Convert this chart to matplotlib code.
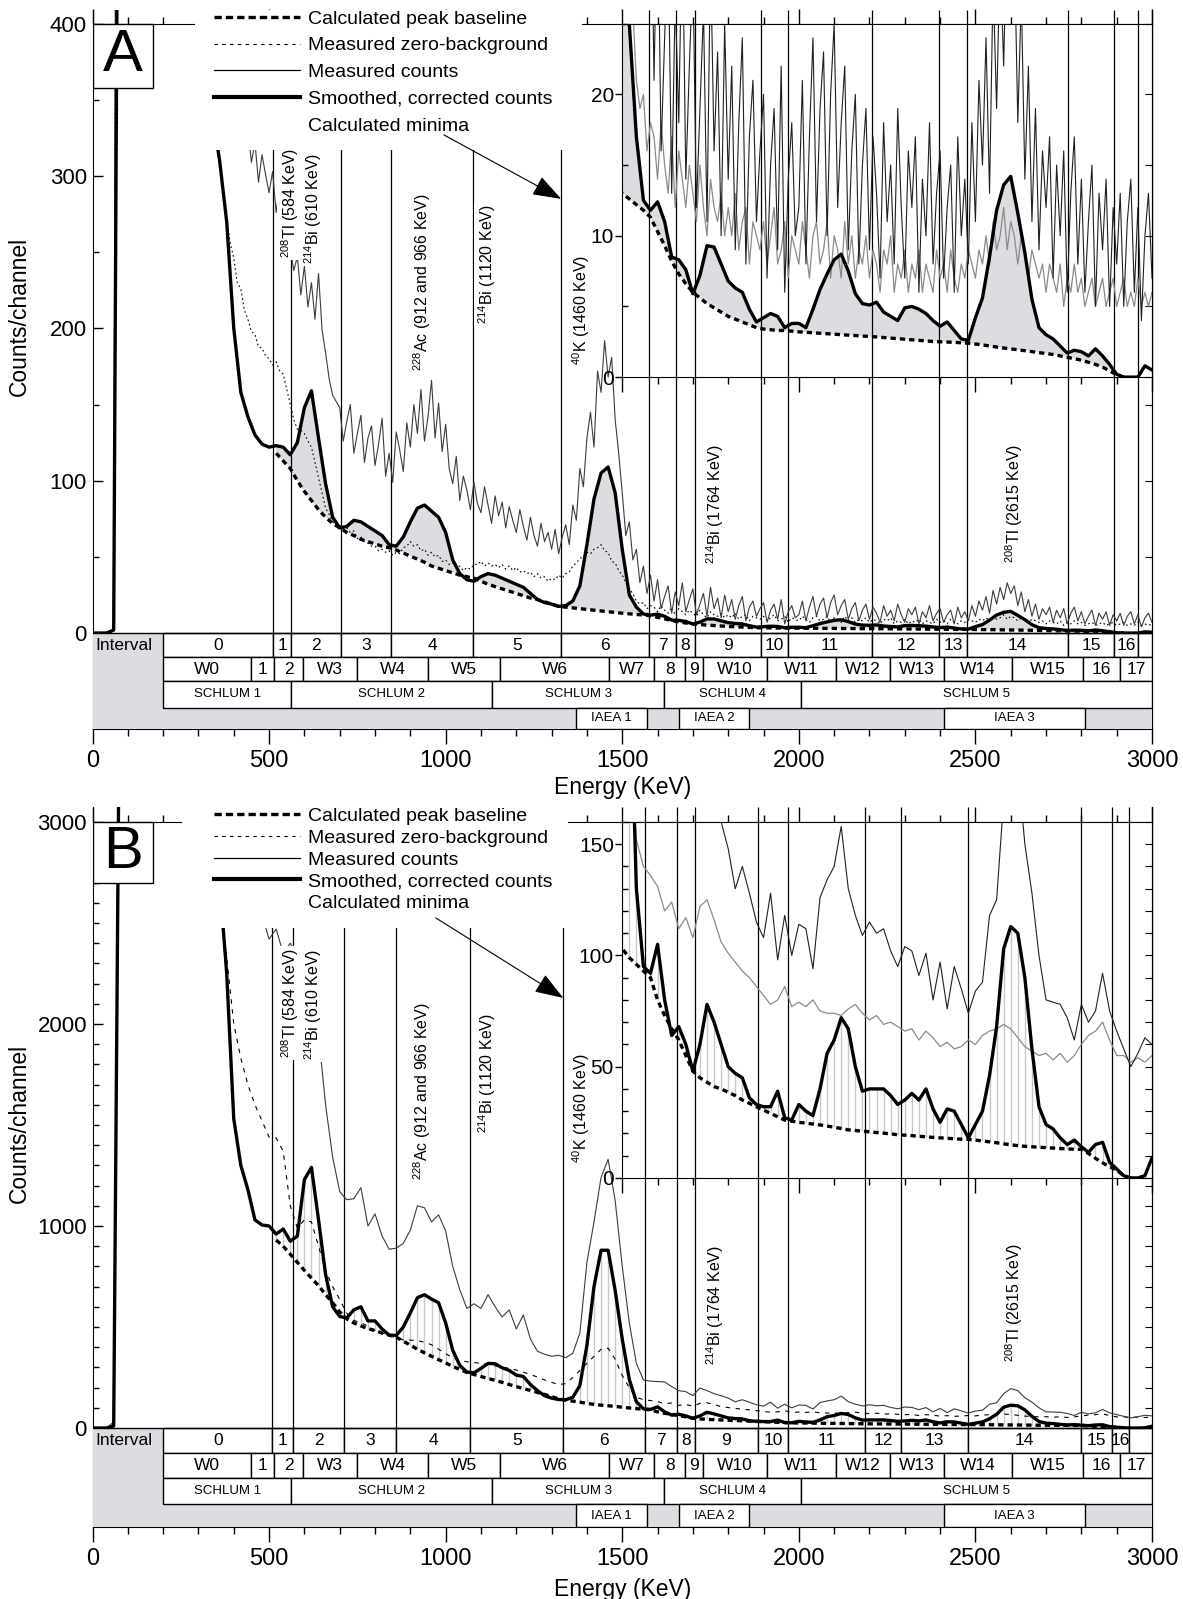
import numpy as np
import matplotlib.pyplot as plt
from matplotlib.patches import Rectangle
from matplotlib.lines import Line2D
from matplotlib.ticker import MultipleLocator, FixedLocator, NullLocator

plt.rcParams['font.family'] = ['Liberation Sans', 'DejaVu Sans']
plt.rcParams['mathtext.fontset'] = 'custom'
plt.rcParams['mathtext.rm'] = 'Liberation Sans'
plt.rcParams['mathtext.it'] = 'Liberation Sans:italic'
plt.rcParams['mathtext.bf'] = 'Liberation Sans:bold'

nan = np.nan

# channel energies (KeV)
energy_fine = np.arange(0, 3001, 10)   # raw spectra of panel A
energy = np.arange(0, 3001, 20)        # smoothed curves, baselines and panel B

# ---------------- panel A ----------------
a_measured = [
    0, 0, 0, 0, 0, 0, 3, 900, 1500, 1500,
    1450, 1400, 1350, 1300, 1250, 1200, 1150, 1100, 1050, 1000,
    950, 900, 860, 820, 780, 740, 700, 660, 620, 580,
    540, 510, 480, 455, 430, 410, 395, 380, 365, 350,
    338, 326, 345, 318, 331, 309, 322, 296, 314, 301,
    289, 303, 276, 294, 268, 285, 252, 238, 247, 222,
    241, 214, 230, 206, 236, 199, 184, 167, 156, 152,
    148, 126, 139, 150, 118, 131, 143, 112, 128, 136,
    110, 124, 141, 103, 118, 99, 132, 120, 106, 138,
    122, 150, 131, 160, 126, 142, 166, 128, 151, 119,
    137, 108, 98, 116, 87, 103, 94, 81, 99, 85,
    79, 96, 84, 72, 90, 77, 86, 69, 83, 74,
    66, 81, 70, 61, 76, 64, 57, 72, 60, 66,
    55, 68, 52, 63, 71, 58, 84, 74, 108, 96,
    128, 145, 122, 172, 158, 192, 168, 181, 140, 118,
    92, 64, 73, 48, 55, 33, 44, 26, 38, 21,
    35, 16, 24, 31, 13, 27, 18, 33, 14, 22,
    29, 12, 19, 26, 11, 30, 16, 23, 10, 25,
    14, 22, 9, 18, 24, 8, 17, 21, 11, 16,
    20, 7, 15, 19, 9, 22, 6, 14, 18, 10,
    12, 21, 8, 17, 24, 11, 19, 23, 10, 20,
    25, 12, 18, 22, 9, 16, 20, 8, 15, 19,
    9, 17, 13, 7, 18, 11, 15, 8, 19, 12,
    7, 16, 12, 17, 6, 14, 10, 18, 8, 13,
    16, 7, 12, 15, 6, 17, 10, 14, 8, 18,
    11, 21, 15, 24, 13, 28, 19, 30, 22, 33,
    26, 31, 18, 27, 14, 22, 11, 19, 9, 16,
    12, 17, 7, 15, 10, 16, 6, 13, 17, 8,
    14, 6, 11, 15, 5, 13, 9, 14, 5, 12,
    8, 13, 5, 11, 14, 6, 12, 4, 10, 13,
    7]

a_zero_bg = [
    0, 0, 0, 0, 0, 0, 2, 800, 1400, 1400,
    1350, 1300, 1250, 1200, 1150, 1100, 1050, 1000, 950, 900,
    860, 820, 780, 740, 700, 660, 620, 580, 540, 500,
    470, 440, 410, 385, 360, 335, 310, 290, 272, 256,
    246, 230, 226, 212, 206, 198, 196, 188, 187, 182,
    180, 176, 178, 172, 170, 160, 150, 140, 134, 133,
    131, 126, 122, 112, 102, 92, 82, 78, 73, 71,
    71, 68, 69, 66, 67, 62, 63, 60, 59, 57,
    57, 54, 55, 53, 54, 51, 53, 52, 56, 57,
    60, 57, 58, 54, 55, 51, 53, 50, 51, 47,
    48, 45, 46, 43, 44, 41, 43, 42, 45, 45,
    47, 44, 46, 44, 45, 43, 45, 42, 44, 41,
    43, 40, 41, 39, 40, 37, 39, 36, 37, 34,
    36, 35, 38, 36, 39, 40, 44, 46, 49, 50,
    53, 52, 55, 56, 58, 54, 53, 47, 46, 41,
    38, 33, 29, 26, 21, 19, 20, 16, 18, 17,
    14, 18, 15, 13, 17, 12, 16, 14, 12, 15,
    13, 11, 15, 12, 10, 14, 12, 11, 13, 10,
    12, 10, 13, 9, 11, 12, 8, 11, 10, 9,
    11, 8, 10, 12, 8, 9, 11, 7, 10, 9,
    8, 11, 9, 7, 10, 11, 8, 9, 11, 7,
    10, 9, 7, 11, 8, 10, 7, 9, 8, 10,
    7, 9, 8, 6, 9, 8, 10, 6, 8, 7,
    9, 6, 8, 7, 9, 6, 8, 7, 6, 9,
    7, 8, 6, 9, 7, 6, 8, 7, 9, 8,
    7, 9, 8, 10, 8, 11, 9, 10, 12, 9,
    11, 10, 8, 10, 9, 7, 9, 8, 7, 8,
    6, 8, 7, 6, 8, 5, 7, 6, 8, 6,
    7, 5, 6, 7, 5, 6, 7, 5, 6, 7,
    5, 6, 7, 5, 6, 5, 7, 5, 6, 5,
    6]

a_smoothed = [
    0, 0, 0, 2, 900, 1300, 1300, 1250, 1200, 1150,
    1100, 1000, 900, 800, 700, 580, 460, 340, 310, 270,
    200, 158, 142, 130, 124, 122, 123, 122, 117, 125,
    148, 159, 128, 98, 76, 69, 70, 74, 73, 70,
    67, 64, 58, 57, 63, 73, 82, 84, 80, 76,
    66, 48, 39, 35, 34, 37, 39, 38, 36, 34,
    32, 30, 26, 22, 20, 19, 17.5, 18, 21, 31,
    58, 88, 105, 109, 92, 55, 25, 17, 12.5, 11.8,
    12.4, 11, 8.5, 8.3, 7.6, 5.9, 7.2, 9.3, 9.2, 8,
    6.8, 6.3, 6, 4.8, 3.9, 4.2, 4.5, 4.3, 3.5, 3.8,
    3.8, 3.5, 4.8, 6.2, 7.3, 8.3, 8.7, 7.5, 5.9, 5.2,
    5.1, 5.3, 4.6, 4.3, 4.0, 4.9, 5.0, 4.8, 4.5, 4.0,
    3.6, 3.9, 3.3, 2.7, 2.6, 4.2, 5.6, 8.5, 11.8, 13.6,
    14.2, 11.6, 8.8, 5.5, 3.5, 3.0, 2.7, 2.2, 1.7, 1.9,
    1.8, 1.5, 2.0, 1.5, 0.9, 0.2, 0, 0, 0, 0.8,
    0.5]

a_baseline = [
    nan, nan, nan, nan, nan, nan, nan, nan, nan, nan,
    nan, nan, nan, nan, nan, nan, nan, nan, nan, nan,
    nan, nan, nan, nan, nan, nan, 118, 113, 108, 100,
    93, 87, 81, 76, 72, 69, 66, 64, 61.5, 60,
    58.5, 57, 56, 54.5, 52.5, 50.5, 48.5, 46.5, 44, 42.5,
    41, 39.5, 38, 37, 36, 34, 32, 30.5, 29, 27.5,
    26, 24.5, 23, 22, 20.5, 19, 17.5, 17, 16.5, 16,
    15.5, 15, 14.5, 14, 13.5, 13, 12.6, 12.2, 11.8, 11.3,
    10.3, 9.3, 8.2, 7.3, 6.6, 6.0, 5.6, 5.2, 4.9, 4.6,
    4.3, 4.1, 3.9, 3.7, 3.5, 3.4, 3.35, 3.3, 3.3, 3.25,
    3.2, 3.17, 3.14, 3.1, 3.07, 3.04, 3.0, 2.97, 2.94, 2.9,
    2.88, 2.84, 2.8, 2.76, 2.72, 2.68, 2.64, 2.6, 2.56, 2.52,
    2.5, 2.48, 2.46, 2.43, 2.4, 2.34, 2.28, 2.2, 2.13, 2.06,
    2.0, 1.93, 1.87, 1.8, 1.73, 1.67, 1.6, 1.5, 1.4, 1.3,
    1.2, 1.05, 0.9, 0.7, 0.45, 0.15, 0.0, nan, nan, nan,
    nan]

a_minima = [512, 563, 704, 846, 1078, 1327, 1577, 1651, 1706, 1893, 1968,
            2208, 2398, 2476, 2763, 2892, 2960]

# ---------------- panel B ----------------
b_measured = [
    0, 0, 0, 30, 5000, 5000, 5000, 5000, 5000, 5000,
    5000, 4800, 4600, 4400, 4200, 4000, 3700, 3200, 2950, 2820,
    2750, 2700, 2650, 2600, 2540, 2420, 2470, 2350, 2400, 2330,
    2380, 2250, 1950, 1600, 1340, 1170, 1130, 1135, 1190, 1000,
    1060, 950, 885, 890, 914, 980, 1100, 1090, 1020, 1055,
    975, 800, 685, 592, 615, 592, 660, 600, 550, 585,
    490, 560, 440, 380, 365, 355, 360, 348, 370, 470,
    820, 1020, 1240, 1330, 1125, 800, 520, 320, 238, 232,
    230, 228, 205, 185, 180, 160, 198, 185, 170, 160,
    148, 130, 140, 128, 115, 108, 128, 98, 118, 100,
    114, 112, 94, 126, 134, 140, 158, 130, 118, 109,
    115, 110, 112, 102, 95, 104, 102, 91, 101, 80,
    97, 76, 95, 85, 74, 84, 88, 118, 125, 170,
    195, 185, 150, 128, 100, 80, 79, 78, 72, 62,
    78, 70, 75, 92, 75, 66, 58, 50, 56, 63,
    60]

b_zero_bg = [
    0, 0, 0, 15, 4500, 4500, 4500, 4500, 4500, 4500,
    4400, 4200, 4000, 3800, 3600, 3400, 3200, 2950, 2600, 2330,
    2000, 1830, 1700, 1600, 1520, 1440, 1436, 1370, 1100, 990,
    1030, 1020, 900, 780, 700, 636, 568, 533, 520, 505,
    482, 470, 458, 446, 436, 435, 432, 425, 412, 390,
    368, 347, 335, 328, 324, 320, 315, 308, 302, 295,
    287, 276, 265, 252, 238, 226, 215, 220, 250, 285,
    320, 355, 390, 395, 340, 260, 200, 152, 140, 136,
    131, 120, 124, 112, 117, 108, 122, 125, 116, 106,
    101, 97, 93, 90, 86, 82, 78, 80, 86, 77,
    79, 77, 80, 75, 74, 74, 73, 76, 78, 74,
    71, 73, 69, 70, 68, 66, 67, 62, 66, 63,
    59, 61, 58, 59, 62, 60, 64, 66, 67, 69,
    67, 63, 59, 57, 55, 56, 53, 56, 52, 55,
    60, 64, 66, 70, 62, 55, 55, 52, 54, 52,
    55]

b_smoothed = [
    0, 0, 0, 10, 4500, 4500, 4500, 4500, 4500, 4500,
    4300, 4100, 3900, 3700, 3500, 3300, 3100, 2900, 2700, 2250,
    1530, 1300, 1180, 1030, 1005, 1000, 960, 985, 925, 950,
    1230, 1290, 1030, 760, 600, 552, 545, 585, 600, 530,
    530, 490, 460, 458, 500, 570, 645, 660, 638, 620,
    520, 385, 310, 277, 273, 295, 320, 318, 298, 285,
    262, 255, 215, 185, 160, 148, 141, 140, 152, 210,
    410, 700, 880, 880, 680, 440, 240, 130, 95, 92,
    105, 80, 64, 68, 60, 48, 60, 78, 70, 60,
    50, 47, 45, 36, 33, 32, 32, 39, 27, 26,
    33, 30, 28, 40, 56, 62, 72, 67, 50, 39,
    40, 40, 40, 37, 33, 35, 38, 35, 40, 31,
    25, 31, 30, 24, 18, 24, 30, 46, 68, 103,
    113, 110, 90, 58, 32, 24, 22, 18, 15, 17,
    14, 11.5, 15, 16, 7, 4, 1, 0, 0, 1,
    9]

b_baseline = [
    nan, nan, nan, nan, nan, nan, nan, nan, nan, nan,
    nan, nan, nan, nan, nan, nan, nan, nan, nan, nan,
    nan, nan, nan, nan, nan, nan, 930, 900, 860, 820,
    780, 742, 705, 660, 620, 575, 540, 520, 505, 492,
    482, 470, 460, 450, 430, 410, 390, 372, 355, 338,
    322, 305, 290, 275, 265, 255, 245, 236, 226, 215,
    205, 195, 186, 176, 166, 156, 144, 138, 133, 128,
    122, 117, 113, 110, 107, 103, 99, 96, 93, 90,
    80, 73, 67, 62, 55, 48, 45, 43, 41, 40,
    38.5, 37, 35, 33.5, 32, 30.5, 29, 27.5, 26, 25.5,
    25, 24.6, 24.2, 23.8, 23.3, 22.8, 22.2, 21.6, 21.3, 21.0,
    20.7, 20.4, 20.1, 19.8, 19.4, 19.2, 19.0, 18.7, 18.5, 18.2,
    18.0, 17.8, 17.6, 17.4, 17.3, 17.0, 16.6, 16.2, 15.8, 15.3,
    14.9, 14.5, 14.2, 14.0, 13.8, 13.6, 13.4, 13.2, 13.0, 12.9,
    12.8, 11, 8.8, 6.8, 5, 3.5, 1, 0, nan, nan,
    nan]

b_minima = [509, 569, 713, 858, 1070, 1333, 1565, 1655, 1705, 1884, 1970,
            2187, 2289, 2478, 2799, 2887, 2936]

# ---------------- energy window rows ----------------
interval_labels = [str(i) for i in range(17)] + ['']
window_edges = [200, 450, 515, 596, 750, 950, 1153, 1463, 1591, 1677, 1728,
                1911, 2105, 2258, 2410, 2605, 2805, 2910, 3000]
window_labels = ['W0', '1', '2', 'W3', 'W4', 'W5', 'W6', 'W7', '8', '9',
                 'W10', 'W11', 'W12', 'W13', 'W14', 'W15', '16', '17']
schlum_edges = [200, 563, 1132, 1619, 2007, 3000]
schlum_labels = ['SCHLUM 1', 'SCHLUM 2', 'SCHLUM 3', 'SCHLUM 4', 'SCHLUM 5']
iaea_windows = [(1370, 1570), (1660, 1860), (2410, 2810)]
iaea_labels = ['IAEA 1', 'IAEA 2', 'IAEA 3']

peak_labels = [r'$^{208}$Tl (584 KeV)', r'$^{214}$Bi (610 KeV)',
               r'$^{228}$Ac (912 and 966 KeV)', r'$^{214}$Bi (1120 KeV)',
               r'$^{40}$K (1460 KeV)', r'$^{214}$Bi (1764 KeV)',
               r'$^{208}$Tl (2615 KeV)']
peak_label_x = [559, 625, 934, 1117, 1383, 1763, 2611]

legend_labels = ['Calculated peak baseline', 'Measured zero-background',
                 'Measured counts', 'Smoothed, corrected counts',
                 'Calculated minima']

GREY = '#dcdde1'
HATCH = '#c6c7cf'

panels = [
    dict(letter='A', rect_px=(92.5, 10, 1152, 729), ylim=(-63, 409), top=400,
         rows=[0, -15.8, -31.5, -49.2, -63], major=100, minor=50,
         right_ticks=[50, 100, 150], inset_y0=168, inset_top=25,
         inset_major=10, inset_minor=5, inset_right=5,
         raw_x=energy_fine, measured=a_measured, zero_bg=a_zero_bg,
         smoothed=a_smoothed, baseline=a_baseline, minima=a_minima,
         hatch=False, zero_style=(0, (1.5, 2.5)),
         peak_y=[246, 242, 172, 203, 176, 45, 46],
         box_y0=358, cover=(290, 1386, 317), leg_y=1.0, leg_space=0.47,
         arrow=((995, 327), (1327, 285)), ylab_y=0.574, xlab_y=-0.066),
    dict(letter='B', rect_px=(92.5, 807, 1152, 1527), ylim=(-490, 3074), top=3000,
         rows=[0, -124, -245, -377, -490], major=1000, minor=100,
         right_ticks=list(range(100, 1201, 100)), inset_y0=1238, inset_top=160,
         inset_major=50, inset_minor=10, inset_right=10,
         raw_x=energy, measured=b_measured, zero_bg=b_zero_bg,
         smoothed=b_smoothed, baseline=b_baseline, minima=b_minima,
         hatch=True, zero_style=(0, (4, 5)),
         peak_y=[1832, 1822, 1228, 1460, 1312, 312, 327],
         box_y0=2698, cover=(253, 1347, 2475), leg_y=0.9993, leg_space=0.21,
         arrow=((972, 2525), (1333, 2129)), ylab_y=0.56, xlab_y=-0.071),
]

fig = plt.figure(figsize=(11.83, 15.99), dpi=100)
W, H = 1183, 1599


def plot_curves(a, p, inset):
    sm = np.asarray(p['smoothed'], float)
    bl = np.asarray(p['baseline'], float)
    above = np.isfinite(bl) & (sm > bl)
    if p['hatch']:
        a.vlines(energy[above], bl[above], sm[above], color=HATCH, lw=1.0, zorder=1)
    else:
        a.fill_between(energy, bl, sm, where=above, interpolate=True,
                       color=GREY, lw=0, zorder=1)
    top = p['inset_top'] if inset else p['ylim'][1]
    a.vlines(p['minima'], 0, top, color='black', lw=0.9, zorder=1.5)
    if inset:
        a.plot(p['raw_x'], p['zero_bg'], color='#8a8a8a', lw=0.9, zorder=2)
        a.plot(p['raw_x'], p['measured'], color='#202020', lw=0.8, zorder=2)
    else:
        a.plot(p['raw_x'], p['zero_bg'], color='black', lw=0.8,
               ls=p['zero_style'], zorder=2)
        a.plot(p['raw_x'], p['measured'], color='#3c3c3c', lw=0.8, zorder=2)
    a.plot(energy, sm, color='black', lw=2.4, zorder=2.2)
    a.plot(energy, bl, color='black', lw=2.4, ls=(0, (1.6, 1.2)), zorder=2.3)


def draw_bands(ax, p):
    r = p['rows']
    ax.add_patch(Rectangle((0, r[4]), 3000, r[0] - r[4], facecolor=GREY,
                           edgecolor='none', zorder=3))
    ax.text(8, (r[0] + r[1]) / 2, 'Interval', ha='left', va='center',
            fontsize=12.5, zorder=4)
    edges = [200] + p['minima'] + [3000]
    spec = [(edges, interval_labels, r[0], r[1], 12.5),
            (window_edges, window_labels, r[1], r[2], 12.5),
            (schlum_edges, schlum_labels, r[2], r[3], 9.5)]
    for e, labs, ytop, ybot, fs in spec:
        for x0, x1, lab in zip(e[:-1], e[1:], labs):
            ax.add_patch(Rectangle((x0, ybot), x1 - x0, ytop - ybot, facecolor='white',
                                   edgecolor='black', lw=1, zorder=3))
            ax.text((x0 + x1) / 2, (ytop + ybot) / 2, lab, ha='center', va='center',
                    fontsize=fs, zorder=4)
    for (x0, x1), lab in zip(iaea_windows, iaea_labels):
        ax.add_patch(Rectangle((x0, r[4]), x1 - x0, r[3] - r[4], facecolor='white',
                               edgecolor='black', lw=1, zorder=3))
        ax.text((x0 + x1) / 2, (r[3] + r[4]) / 2, lab, ha='center', va='center',
                fontsize=9.5, zorder=4)
    ax.axhline(0, color='black', lw=1, zorder=3.5)


for p in panels:
    l, t, rgt, b = p['rect_px']
    ax = fig.add_axes([l / W, 1 - b / H, (rgt - l) / W, (b - t) / H])
    ax.set_xlim(0, 3000)
    ax.set_ylim(*p['ylim'])
    top = p['top']

    plot_curves(ax, p, inset=False)
    draw_bands(ax, p)

    # axes styling
    ax.spines['top'].set_position(('data', top))
    ax.xaxis.set_major_locator(MultipleLocator(500))
    ax.xaxis.set_minor_locator(MultipleLocator(100))
    ax.tick_params(axis='x', which='both', direction='out', top=True, bottom=True,
                   labelsize=17, pad=4, width=1)
    ax.tick_params(axis='x', which='major', length=11)
    ax.tick_params(axis='x', which='minor', length=5)
    ax.yaxis.set_major_locator(MultipleLocator(p['major']))
    ax.yaxis.set_minor_locator(MultipleLocator(p['minor']))
    ax.tick_params(axis='y', which='major', direction='in', length=7,
                   labelsize=16, pad=4, width=1)
    ax.tick_params(axis='y', which='minor', direction='in', length=4, width=1)
    sec = ax.secondary_yaxis('right')
    sec.yaxis.set_major_locator(FixedLocator(p['right_ticks']))
    sec.yaxis.set_minor_locator(NullLocator())
    sec.tick_params(direction='in', length=5, labelright=False)

    ax.set_xlabel('Energy (KeV)', fontsize=16.5)
    ax.xaxis.set_label_coords(0.5, p['xlab_y'])
    ax.set_ylabel('Counts/channel', fontsize=16.5)
    ax.yaxis.set_label_coords(-0.058, p['ylab_y'])

    # isotope peak labels
    for lab, x, y in zip(peak_labels, peak_label_x, p['peak_y']):
        ax.text(x, y, lab, rotation=90, ha='center', va='bottom', fontsize=11.5,
                zorder=4, bbox=dict(facecolor='white', edgecolor='none', pad=1.5))

    # white area behind the legend
    cx0, cx1, cy0 = p['cover']
    ax.add_patch(Rectangle((cx0, cy0), cx1 - cx0, p['ylim'][1] - cy0,
                           facecolor='white', edgecolor='none', zorder=6))

    handles = [Line2D([], [], color='black', lw=2.4, ls=(0, (2.2, 1.2))),
               Line2D([], [], color='black', lw=0.8, ls=(0, (3, 4))),
               Line2D([], [], color='black', lw=0.9),
               Line2D([], [], color='black', lw=3.0),
               Line2D([], [], color='none')]
    leg = ax.legend(handles, legend_labels, loc='upper left',
                    bbox_to_anchor=((214 - 92.5) / 1059.5, p['leg_y']),
                    frameon=False, fontsize=14, handlelength=4.4,
                    handletextpad=0.45, labelspacing=p['leg_space'],
                    borderpad=0, borderaxespad=0)
    leg.set_zorder(7)

    (sx, sy), (ex, ey) = p['arrow']
    ax.annotate('', xy=(ex, ey), xytext=(sx, sy), zorder=7,
                arrowprops=dict(arrowstyle='-|>,head_length=0.45,head_width=0.16',
                                mutation_scale=40, lw=0.8, color='black',
                                shrinkA=0, shrinkB=0))

    # panel letter box
    ax.add_patch(Rectangle((0, p['box_y0']), 171, top - p['box_y0'], facecolor='white',
                           edgecolor='black', lw=1, zorder=6))
    ax.text(85.5, (top + p['box_y0']) / 2, p['letter'], ha='center', va='center',
            fontsize=43, zorder=7)

    # zoomed inset of the high-energy part
    ins = ax.inset_axes([1500, p['inset_y0'], 1500, top - p['inset_y0']],
                        transform=ax.transData)
    ins.set_xlim(1500, 3000)
    ins.set_ylim(0, p['inset_top'])
    plot_curves(ins, p, inset=True)
    ins.xaxis.set_major_locator(MultipleLocator(500))
    ins.xaxis.set_minor_locator(MultipleLocator(100))
    ins.tick_params(axis='x', which='both', direction='out', top=False,
                    labelbottom=False, width=1)
    ins.tick_params(axis='x', which='major', length=11)
    ins.tick_params(axis='x', which='minor', length=5)
    ins.yaxis.set_major_locator(MultipleLocator(p['inset_major']))
    ins.yaxis.set_minor_locator(MultipleLocator(p['inset_minor']))
    ins.tick_params(axis='y', which='major', direction='out', length=5,
                    labelsize=15, pad=1, width=1)
    ins.tick_params(axis='y', which='minor', direction='in', length=4, width=1)
    isec = ins.secondary_yaxis('right')
    isec.yaxis.set_major_locator(MultipleLocator(p['inset_right']))
    isec.yaxis.set_minor_locator(NullLocator())
    isec.tick_params(direction='in', length=5, labelright=False)

fig.savefig('out.png', dpi=100)
